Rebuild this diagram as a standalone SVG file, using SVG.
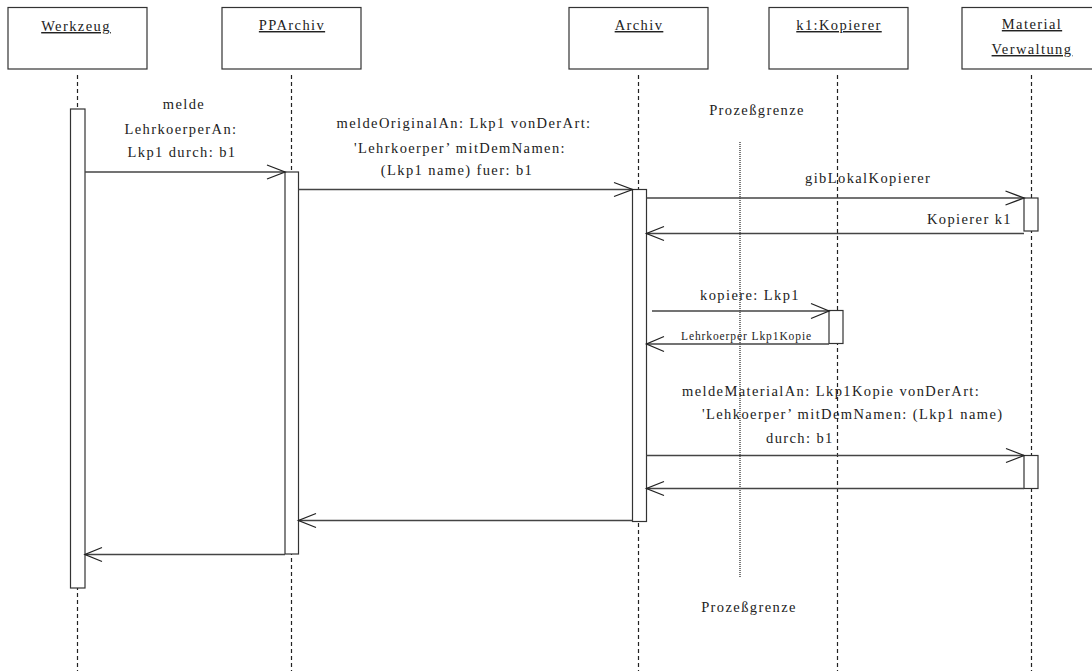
<svg xmlns="http://www.w3.org/2000/svg" width="1092" height="671" viewBox="0 0 1092 671">
<style>
.box{fill:#fff;stroke:#333;stroke-width:1.2}
.act{fill:#fff;stroke:#333;stroke-width:1.2}
.life{stroke:#222;stroke-width:1.2;stroke-dasharray:4 3;fill:none}
.msg{stroke:#444;stroke-width:1.3;fill:none}
.head{stroke:#222;stroke-width:1.3;fill:none}
.t{font-family:"Liberation Serif","Times New Roman",serif;font-size:14.5px;letter-spacing:1.4px;fill:#222}
.s{font-family:"Liberation Serif","Times New Roman",serif;font-size:11.5px;letter-spacing:0.9px;fill:#222}
.u{text-decoration:underline}
.m{text-anchor:middle}
.e{text-anchor:end}
</style>
<g id="lifelines">
<line class="life" x1="77.5" y1="75" x2="77.5" y2="671"/>
<line class="life" x1="291.5" y1="75" x2="291.5" y2="671"/>
<line class="life" x1="638.5" y1="75" x2="638.5" y2="671"/>
<line class="life" x1="837.5" y1="75" x2="837.5" y2="671"/>
<line class="life" x1="1031.5" y1="75" x2="1031.5" y2="671"/>
</g>
<g id="Werkzeug">
<rect class="box" x="8" y="7.5" width="139" height="61.5"/>
<text class="t m u" x="76" y="31">Werkzeug</text>
<rect class="act" x="70.5" y="109" width="14.5" height="479"/>
</g>
<g id="PPArchiv">
<rect class="box" x="222" y="7.5" width="139" height="61.5"/>
<text class="t m u" x="292" y="30">PPArchiv</text>
<rect class="act" x="285" y="172" width="13.5" height="382"/>
</g>
<g id="Archiv">
<rect class="box" x="569" y="7.5" width="139" height="61.5"/>
<text class="t m u" x="639" y="30">Archiv</text>
<rect class="act" x="632.5" y="189.5" width="14" height="332"/>
</g>
<g id="Kopierer">
<rect class="box" x="769" y="7.5" width="139" height="61.5"/>
<text class="t m u" x="839" y="30">k1:Kopierer</text>
<rect class="act" x="829" y="310.5" width="14" height="33"/>
</g>
<g id="MaterialVerwaltung">
<rect class="box" x="962" y="7.5" width="139" height="61.5"/>
<text class="t m u" x="1032" y="29">Material</text>
<text class="t m u" x="1032" y="54">Verwaltung</text>
<rect class="act" x="1024" y="198" width="14" height="33"/>
<rect class="act" x="1024" y="455.5" width="14" height="33"/>
</g>
<g id="Prozessgrenze">
<line x1="740" y1="142" x2="740" y2="578" stroke="#222" stroke-width="1.2" stroke-dasharray="1 1"/>
<text class="t m" x="757" y="115">Prozeßgrenze</text>
<text class="t m" x="749" y="612">Prozeßgrenze</text>
</g>
<g id="connectors">
<line class="msg" x1="85" y1="172" x2="285" y2="172"/>
<path class="head" d="M267,165 L285,172 L267,179"/>
<line class="msg" x1="298.5" y1="189.5" x2="632.5" y2="189.5"/>
<path class="head" d="M614,182.5 L632.5,189.5 L614,196.5"/>
<line class="msg" x1="646.5" y1="198" x2="1024" y2="198"/>
<path class="head" d="M1005.5,191 L1024,198 L1005.5,205"/>
<line class="msg" x1="1024" y1="233.5" x2="646.5" y2="233.5"/>
<path class="head" d="M664,226.5 L646.5,233.5 L664,240.5"/>
<line class="msg" x1="652" y1="311" x2="829" y2="311"/>
<path class="head" d="M811,303.5 L829,311 L811,318.5"/>
<line class="msg" x1="829" y1="344" x2="646.5" y2="344"/>
<path class="head" d="M664,336.5 L646.5,344 L664,351.5"/>
<line class="msg" x1="646.5" y1="455.5" x2="1024" y2="455.5"/>
<path class="head" d="M1006,448.5 L1024,455.5 L1006,462.5"/>
<line class="msg" x1="1024" y1="488.5" x2="646.5" y2="488.5"/>
<path class="head" d="M664,481.5 L646.5,488.5 L664,495.5"/>
<line class="msg" x1="632.5" y1="520.5" x2="298.5" y2="520.5"/>
<path class="head" d="M316,513.5 L298.5,520.5 L316,527.5"/>
<line class="msg" x1="285" y1="554.5" x2="85" y2="554.5"/>
<path class="head" d="M102,547.5 L85,554.5 L102,561.5"/>
</g>
<g id="labels">
<text class="t m" x="184" y="109">melde</text>
<text class="t m" x="181" y="134">LehrkoerperAn:</text>
<text class="t m" x="182" y="157">Lkp1 durch: b1</text>
<text class="t m" x="464" y="128">meldeOriginalAn: Lkp1 vonDerArt:</text>
<text class="t m" x="460" y="153">'Lehrkoerper’ mitDemNamen:</text>
<text class="t m" x="457" y="175">(Lkp1 name) fuer: b1</text>
<text class="t" x="805" y="183">gibLokalKopierer</text>
<text class="t e" x="1012" y="224">Kopierer k1</text>
<text class="t" x="700" y="300">kopiere: Lkp1</text>
<text class="s" x="681" y="340">Lehrkoerper Lkp1Kopie</text>
<text class="t" x="682" y="396">meldeMaterialAn: Lkp1Kopie vonDerArt:</text>
<text class="t" x="702" y="419">'Lehkoerper’ mitDemNamen: (Lkp1 name)</text>
<text class="t" x="766" y="443">durch: b1</text>
</g>
</svg>
